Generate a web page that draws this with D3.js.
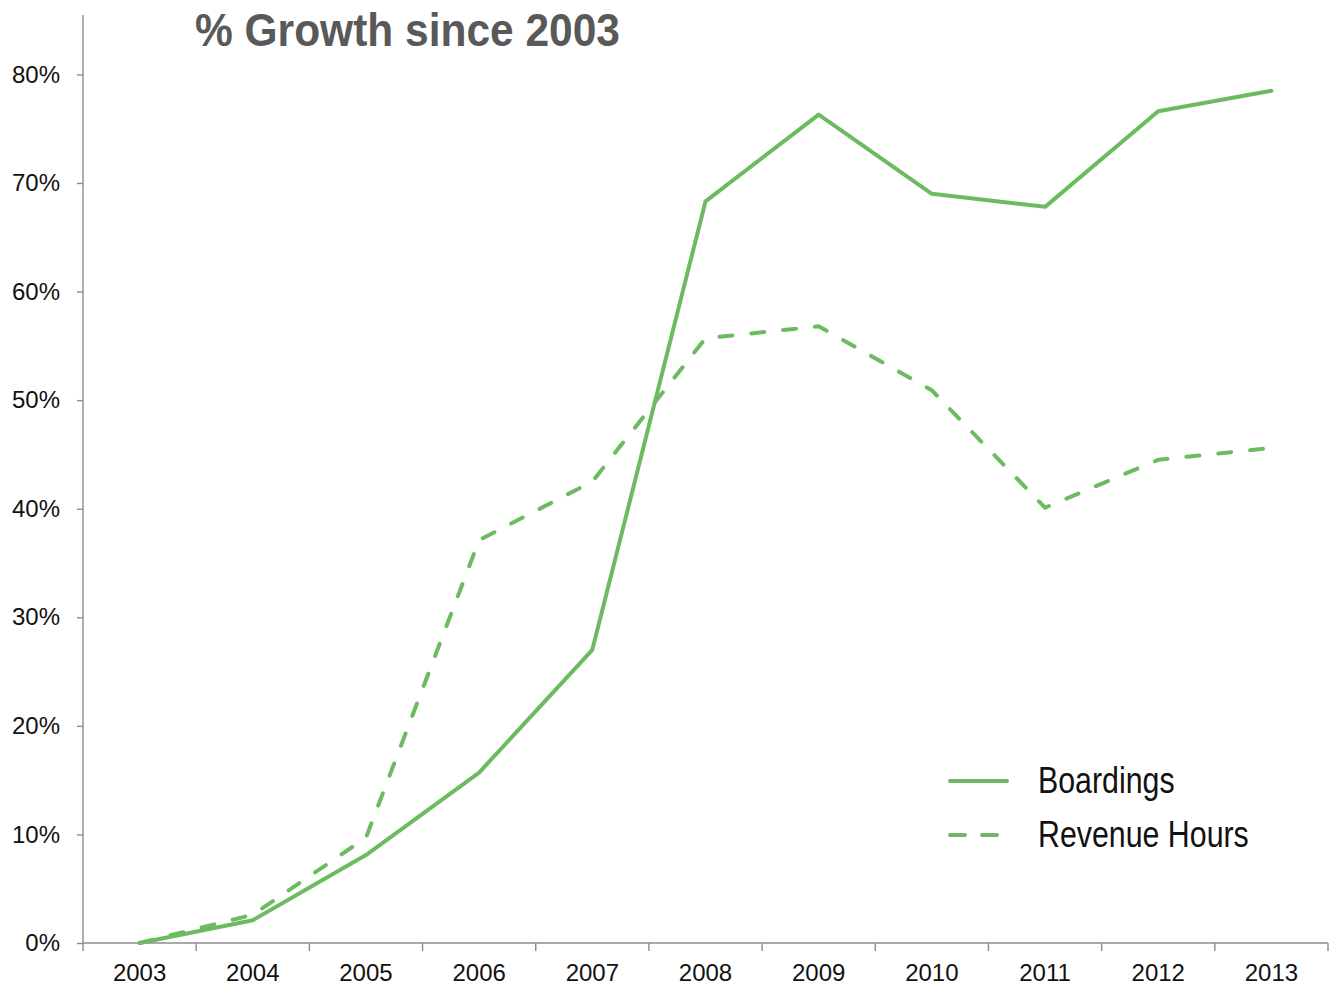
<!DOCTYPE html>
<html>
<head>
<meta charset="utf-8">
<script src="https://cdn.jsdelivr.net/npm/d3@7"></script>
<style>
  body { margin: 0; background: #fff; }
  svg { display: block; }
</style>
</head>
<body>
<svg></svg>
<script>
let years = ["2003", "2004", "2005", "2006", "2007", "2008", "2009", "2010", "2011", "2012", "2013"];
let boardings = [0, 0.021, 0.081, 0.157, 0.270, 0.683, 0.763, 0.690, 0.678, 0.766, 0.785];
let revenueHours = [0, 0.026, 0.097, 0.371, 0.425, 0.557, 0.568, 0.509, 0.401, 0.445, 0.456];
let yTicks = [0, 0.1, 0.2, 0.3, 0.4, 0.5, 0.6, 0.7, 0.8];
let seriesNames = ["Boardings", "Revenue Hours"];

let width = 1333;
let height = 985;
let green = "#6dbb60";
let axisColor = "#8c8c8c";

let svg = d3.select("svg")
    .attr("width", width)
    .attr("height", height);

let plotLeft = 83, plotRight = 1328, plotTop = 15, plotBottom = 943;

let scaleX = d3.scaleBand()
    .domain(years)
    .range([plotLeft, plotRight]);

let scaleY = d3.scaleLinear()
    .domain([0, 0.8547])
    .range([plotBottom, plotTop]);

// title
svg.append("text")
    .attr("x", 195)
    .attr("y", 46)
    .attr("textLength", 425)
    .attr("lengthAdjust", "spacingAndGlyphs")
    .style("font-family", "Liberation Sans, Arial, sans-serif")
    .style("font-weight", "bold")
    .style("font-size", "47px")
    .style("fill", "#595959")
    .text("% Growth since 2003");

// y axis
let axisY = d3.axisLeft(scaleY)
    .tickValues(yTicks)
    .tickFormat(d3.format(".0%"))
    .tickSize(6)
    .tickPadding(17)
    .tickSizeOuter(0);

let gy = svg.append("g")
    .attr("transform", `translate(${plotLeft}, 0)`)
    .call(axisY);

// x axis, labels centred, ticks on band edges
let axisX = d3.axisBottom(scaleX)
    .tickSize(0)
    .tickPadding(21);

let gx = svg.append("g")
    .attr("transform", `translate(0, ${plotBottom})`)
    .call(axisX);

let edges = years.map(d => scaleX(d)).concat([plotRight]);
gx.selectAll(".edge")
    .data(edges)
    .enter()
    .append("line")
    .attr("class", "edge")
    .attr("x1", d => d)
    .attr("x2", d => d)
    .attr("y1", 0)
    .attr("y2", 8);

[gx, gy].forEach(g => {
    g.selectAll("path, line")
        .attr("stroke", axisColor)
        .attr("stroke-width", 1.4);
    g.selectAll("text")
        .style("font-family", "Liberation Sans, Arial, sans-serif")
        .style("font-size", "24px")
        .attr("fill", "#111");
});
gy.select(".domain").attr("d", `M0,${plotTop}V${plotBottom}`);
gx.select(".domain").attr("d", `M${plotLeft},0H${plotRight}`);

// lines
let line = d3.line()
    .x((d, i) => scaleX(years[i]) + scaleX.bandwidth() / 2)
    .y(d => scaleY(d));

svg.append("path")
    .datum(revenueHours)
    .attr("d", line)
    .attr("fill", "none")
    .attr("stroke", green)
    .attr("stroke-width", 4)
    .attr("stroke-linecap", "round")
    .attr("stroke-linejoin", "round")
    .attr("stroke-dasharray", "13,19");

svg.append("path")
    .datum(boardings)
    .attr("d", line)
    .attr("fill", "none")
    .attr("stroke", green)
    .attr("stroke-width", 4)
    .attr("stroke-linecap", "round")
    .attr("stroke-linejoin", "round");

// legend
let legend = svg.selectAll(".legend")
    .data(seriesNames)
    .enter()
    .append("g")
    .attr("class", "legend")
    .attr("transform", (d, i) => `translate(950, ${781 + i * 54})`);

legend.append("line")
    .attr("x1", 0)
    .attr("x2", 57)
    .attr("stroke", green)
    .attr("stroke-width", 4)
    .attr("stroke-linecap", "round")
    .attr("stroke-dasharray", (d, i) => i ? "15,17" : null);

// condensed look: squeeze a regular face horizontally
legend.append("text")
    .attr("transform", "translate(88, 12) scale(0.82, 1)")
    .style("font-family", "Liberation Sans, Arial, sans-serif")
    .style("font-size", "37px")
    .style("fill", "#111")
    .text(d => d);
</script>
</body>
</html>
